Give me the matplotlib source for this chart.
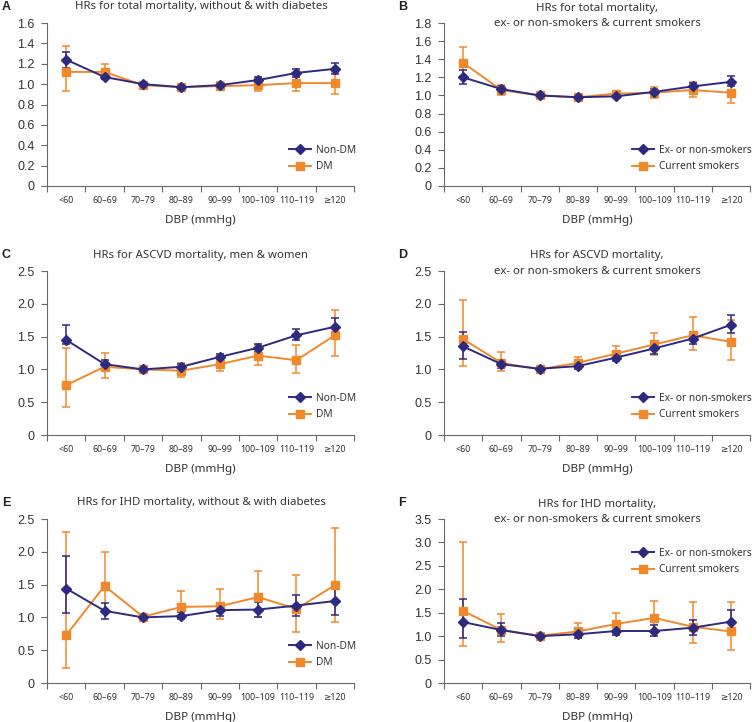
import numpy as np
import matplotlib
matplotlib.use("Agg")
import matplotlib.pyplot as plt

plt.rcParams['font.family'] = ['Noto Sans', 'DejaVu Sans']

# categories on the x axis
categories = ['<60', '60–69', '70–79', '80–89', '90–99', '100–109', '110–119', '≥120']

# A: total mortality, without & with diabetes
a_nondm = [1.24, 1.07, 1.00, 0.97, 0.99, 1.04, 1.11, 1.15]
a_nondm_lo = [1.16, 1.05, 0.98, 0.95, 0.97, 1.01, 1.07, 1.10]
a_nondm_hi = [1.32, 1.10, 1.02, 0.99, 1.01, 1.07, 1.15, 1.21]
a_dm = [1.12, 1.12, 0.99, 0.97, 0.98, 0.99, 1.01, 1.01]
a_dm_lo = [0.93, 1.06, 0.97, 0.95, 0.94, 0.93, 0.93, 0.90]
a_dm_hi = [1.37, 1.20, 1.02, 0.99, 1.02, 1.05, 1.09, 1.12]

# B: total mortality, smokers
b_ex = [1.20, 1.07, 1.00, 0.98, 0.99, 1.04, 1.10, 1.15]
b_ex_lo = [1.13, 1.04, 0.98, 0.96, 0.97, 1.01, 1.07, 1.10]
b_ex_hi = [1.28, 1.10, 1.02, 1.00, 1.01, 1.07, 1.14, 1.21]
b_cur = [1.36, 1.06, 1.00, 0.98, 1.02, 1.03, 1.06, 1.03]
b_cur_lo = [1.21, 1.01, 0.98, 0.96, 0.99, 0.97, 0.98, 0.92]
b_cur_hi = [1.54, 1.12, 1.02, 1.00, 1.04, 1.09, 1.15, 1.14]

# C: ASCVD mortality, men & women
c_nondm = [1.45, 1.08, 1.00, 1.04, 1.19, 1.33, 1.52, 1.65]
c_nondm_lo = [1.38, 1.04, 0.98, 1.00, 1.15, 1.27, 1.45, 1.52]
c_nondm_hi = [1.67, 1.14, 1.03, 1.08, 1.23, 1.38, 1.61, 1.78]
c_dm = [0.76, 1.04, 1.00, 0.98, 1.08, 1.21, 1.14, 1.52]
c_dm_lo = [0.43, 0.87, 0.97, 0.89, 0.97, 1.06, 0.94, 1.20]
c_dm_hi = [1.33, 1.25, 1.03, 1.09, 1.20, 1.37, 1.37, 1.91]

# D: ASCVD mortality, smokers
d_ex = [1.35, 1.08, 1.01, 1.05, 1.18, 1.32, 1.47, 1.68]
d_ex_lo = [1.16, 1.02, 0.99, 1.01, 1.13, 1.24, 1.39, 1.55]
d_ex_hi = [1.57, 1.14, 1.03, 1.08, 1.24, 1.40, 1.57, 1.83]
d_cur = [1.46, 1.10, 1.00, 1.10, 1.24, 1.38, 1.52, 1.42]
d_cur_lo = [1.05, 0.97, 0.98, 1.03, 1.14, 1.22, 1.30, 1.14]
d_cur_hi = [2.06, 1.27, 1.02, 1.19, 1.35, 1.56, 1.80, 1.75]

# E: IHD mortality, without & with diabetes
e_nondm = [1.44, 1.10, 1.00, 1.02, 1.11, 1.12, 1.18, 1.25]
e_nondm_lo = [1.07, 0.98, 0.98, 0.97, 1.02, 1.00, 1.02, 1.04]
e_nondm_hi = [1.94, 1.22, 1.03, 1.08, 1.19, 1.23, 1.34, 1.50]
e_dm = [0.73, 1.48, 1.01, 1.16, 1.17, 1.31, 1.13, 1.49]
e_dm_lo = [0.23, 1.09, 0.98, 0.97, 0.97, 1.01, 0.77, 0.93]
e_dm_hi = [2.30, 2.00, 1.04, 1.40, 1.44, 1.71, 1.65, 2.36]

# F: IHD mortality, smokers
f_ex = [1.30, 1.13, 1.00, 1.04, 1.11, 1.11, 1.18, 1.31]
f_ex_lo = [0.95, 1.00, 0.98, 0.97, 1.02, 1.00, 1.02, 1.04]
f_ex_hi = [1.80, 1.27, 1.03, 1.10, 1.21, 1.24, 1.35, 1.56]
f_cur = [1.54, 1.13, 1.01, 1.10, 1.26, 1.39, 1.20, 1.10]
f_cur_lo = [0.79, 0.87, 0.98, 0.95, 1.05, 1.09, 0.86, 0.70]
f_cur_hi = [3.00, 1.48, 1.04, 1.28, 1.50, 1.76, 1.72, 1.73]

NAVY = '#2e2a80'
ORANGE = '#f0892c'
GREY = '#6a6a6a'
TXT = '#333333'

W, H = 752, 722
fig = plt.figure(figsize=(W / 100, H / 100), dpi=100)


def px_rect(l, r, t, b):
    return [l / W, 1 - b / H, (r - l) / W, (b - t) / H]


def draw_panel(rect, letter, letter_xy, title_lines, title_x, title_ys,
               ymax, ystep, s1, s2, labels, legend_xy):
    ax = fig.add_axes(px_rect(*rect))
    x = np.arange(len(categories)) + 0.5

    handles = []
    for (y, lo, hi), color, marker, ms in [(s2, ORANGE, 's', 5.3), (s1, NAVY, 'D', 4.8)]:
        y, lo, hi = np.array(y), np.array(lo), np.array(hi)
        eb = ax.errorbar(x, y, yerr=[y - lo, hi - y], color=color, marker=marker,
                         ms=ms, lw=1.4, elinewidth=1.1, capsize=2.6, capthick=1.1)
        handles.append(eb[0])
    handles = handles[::-1]

    ax.set_xlim(0, 8)
    ax.set_ylim(0, ymax)
    yt = np.arange(0, ymax + 1e-9, ystep)
    ax.set_yticks(yt)
    ax.set_yticklabels(['0' if v == 0 else f'{v:.1f}' for v in yt],
                       fontsize=9, color=TXT, family=['Liberation Sans', 'DejaVu Sans'])
    ax.set_xticks(np.arange(0, 9))
    ax.set_xticklabels([])
    ax.set_xticks(x, minor=True)
    ax.set_xticklabels(categories, minor=True, fontsize=6.4, color=TXT)
    ax.tick_params(axis='x', which='major', length=4, width=0.8, color=GREY, direction='out')
    ax.tick_params(axis='x', which='minor', length=0, pad=7.5)
    ax.tick_params(axis='y', length=4, width=0.8, color=GREY, pad=5)
    for side in ['top', 'right']:
        ax.spines[side].set_visible(False)
    for side in ['left', 'bottom']:
        ax.spines[side].set_color(GREY)
        ax.spines[side].set_linewidth(0.8)
    ax.set_facecolor('none')

    ax.set_xlabel('DBP (mmHg)', fontsize=8.4, color=TXT, labelpad=7)

    for line, ty in zip(title_lines, title_ys):
        fig.text(title_x / W, 1 - ty / H, line, ha='center', va='center',
                 fontsize=8.2, color=TXT)
    fig.text(letter_xy[0] / W, 1 - letter_xy[1] / H, letter, ha='left', va='center',
             fontsize=9, fontweight='bold', color='#222222',
             family=['Liberation Sans', 'DejaVu Sans'])

    ax.legend(handles, labels, loc='center left',
              bbox_to_anchor=(legend_xy[0] / W, 1 - legend_xy[1] / H),
              bbox_transform=fig.transFigure, frameon=False, borderpad=0,
              borderaxespad=0, handlelength=2.2, handletextpad=0.45,
              labelspacing=0.55, fontsize=7.3, labelcolor=TXT)
    return ax


dm_labels = ['Non-DM', 'DM']
sm_labels = ['Ex- or non-smokers', 'Current smokers']

draw_panel((47, 354, 23, 186), 'A', (2, 7),
           ['HRs for total mortality, without & with diabetes'], 201, [7],
           1.6, 0.2, (a_nondm, a_nondm_lo, a_nondm_hi), (a_dm, a_dm_lo, a_dm_hi),
           dm_labels, (289, 158.5))
draw_panel((444, 750, 23, 186), 'B', (398, 7),
           ['HRs for total mortality,', 'ex- or non-smokers & current smokers'], 597, [8, 23],
           1.8, 0.2, (b_ex, b_ex_lo, b_ex_hi), (b_cur, b_cur_lo, b_cur_hi),
           sm_labels, (632, 158.5))
draw_panel((47, 354, 271, 435), 'C', (2, 255),
           ['HRs for ASCVD mortality, men & women'], 201, [255],
           2.5, 0.5, (c_nondm, c_nondm_lo, c_nondm_hi), (c_dm, c_dm_lo, c_dm_hi),
           dm_labels, (289, 406.5))
draw_panel((444, 750, 271, 435), 'D', (398, 255),
           ['HRs for ASCVD mortality,', 'ex- or non-smokers & current smokers'], 597, [255, 271],
           2.5, 0.5, (d_ex, d_ex_lo, d_ex_hi), (d_cur, d_cur_lo, d_cur_hi),
           sm_labels, (632, 406.5))
draw_panel((47, 354, 519, 683), 'E', (2, 503),
           ['HRs for IHD mortality, without & with diabetes'], 201, [503],
           2.5, 0.5, (e_nondm, e_nondm_lo, e_nondm_hi), (e_dm, e_dm_lo, e_dm_hi),
           dm_labels, (289, 654.5))
draw_panel((444, 750, 519, 683), 'F', (398, 503),
           ['HRs for IHD mortality,', 'ex- or non-smokers & current smokers'], 597, [504, 519],
           3.5, 0.5, (f_ex, f_ex_lo, f_ex_hi), (f_cur, f_cur_lo, f_cur_hi),
           sm_labels, (632, 561.5))

fig.savefig('out.png', dpi=100, facecolor='white')
